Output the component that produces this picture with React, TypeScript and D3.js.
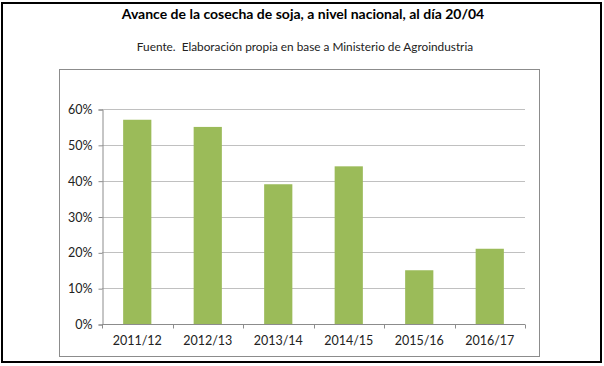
import React, { useEffect, useRef } from "react";
import * as d3 from "d3";

const campaigns = ["2011/12", "2012/13", "2013/14", "2014/15", "2015/16", "2016/17"];
const progress = [0.57, 0.55, 0.39, 0.44, 0.15, 0.21];
const yTicks = [0, 0.1, 0.2, 0.3, 0.4, 0.5, 0.6];

const title = "Avance de la cosecha de soja, a nivel nacional, al día 20/04";
const subtitle = "Fuente.  Elaboración propia en base a Ministerio de Agroindustria";

function App() {
  const ref = useRef<HTMLDivElement>(null);

  useEffect(() => {
    const width = 604;
    const height = 366;
    const font = "Lato, 'Open Sans', sans-serif";

    d3.select(ref.current).select("svg").remove();

    const svg = d3
      .select(ref.current)
      .append("svg")
      .attr("width", width)
      .attr("height", height)
      .style("position", "absolute")
      .style("left", 0)
      .style("top", 0);

    svg.append("rect").attr("width", width).attr("height", height).attr("fill", "white");

    // outer frame
    svg
      .append("rect")
      .attr("x", 2)
      .attr("y", 3)
      .attr("width", 599)
      .attr("height", 359)
      .attr("fill", "none")
      .attr("stroke", "black")
      .attr("stroke-width", 2);

    svg
      .append("text")
      .attr("x", 303)
      .attr("y", 19)
      .attr("text-anchor", "middle")
      .style("font-family", font)
      .style("font-weight", "bold")
      .style("font-size", "14px")
      .text(title);

    svg
      .append("text")
      .attr("x", 305)
      .attr("y", 51)
      .attr("text-anchor", "middle")
      .style("font-family", font)
      .style("font-size", "11.8px")
      .style("white-space", "pre")
      .attr("fill", "#222")
      .text(subtitle);

    // chart box
    svg
      .append("rect")
      .attr("x", 59.5)
      .attr("y", 69.5)
      .attr("width", 480)
      .attr("height", 287)
      .attr("fill", "none")
      .attr("stroke", "#8c8c8c")
      .attr("stroke-width", 1);

    const x = d3.scaleBand().domain(campaigns).range([102, 525]).paddingInner(0.6).paddingOuter(0.3);
    const band = d3.scaleBand().domain(campaigns).range([102, 525]);
    const y = d3.scaleLinear().domain([0, 0.6]).range([324, 109]);

    const g = svg.append("g");

    // grid
    g.selectAll("line.grid")
      .data(yTicks.filter((d) => d > 0))
      .enter()
      .append("line")
      .attr("x1", 102)
      .attr("x2", 525)
      .attr("y1", (d) => Math.round(y(d)) + 0.5)
      .attr("y2", (d) => Math.round(y(d)) + 0.5)
      .attr("stroke", "#c0c0c0");

    // y axis
    const yAxis = g
      .append("g")
      .attr("transform", "translate(102.5,0.5)")
      .call(
        d3
          .axisLeft(y)
          .tickValues(yTicks)
          .tickFormat(d3.format(".0%"))
          .tickSize(4)
          .tickPadding(6)
      );
    yAxis.selectAll("line,path").attr("stroke", "#8c8c8c");
    yAxis.selectAll("text").style("font-family", font).style("font-size", "12.5px").attr("fill", "#222");

    // bars
    g.selectAll("rect.bar")
      .data(progress)
      .enter()
      .append("rect")
      .attr("x", (d, i) => x(campaigns[i]))
      .attr("y", (d) => y(d))
      .attr("width", x.bandwidth())
      .attr("height", (d) => y(0) - y(d))
      .attr("fill", "#9bbb59");

    // x axis
    const base = Math.round(y(0)) + 0.5;
    g.append("line")
      .attr("x1", 102)
      .attr("x2", 525)
      .attr("y1", base)
      .attr("y2", base)
      .attr("stroke", "#8c8c8c");

    const edges = campaigns.map((c) => band(c)).concat([525]);
    g.selectAll("line.xtick")
      .data(edges)
      .enter()
      .append("line")
      .attr("x1", (d) => Math.round(d) + 0.5)
      .attr("x2", (d) => Math.round(d) + 0.5)
      .attr("y1", base)
      .attr("y2", base + 4)
      .attr("stroke", "#8c8c8c");

    g.selectAll("text.xlabel")
      .data(campaigns)
      .enter()
      .append("text")
      .attr("x", (d) => band(d) + band.bandwidth() / 2)
      .attr("y", 345)
      .attr("text-anchor", "middle")
      .style("font-family", font)
      .style("font-size", "12.5px")
      .attr("fill", "#222")
      .text((d) => d);
  }, []);

  return <div ref={ref}></div>;
}

export default App;
